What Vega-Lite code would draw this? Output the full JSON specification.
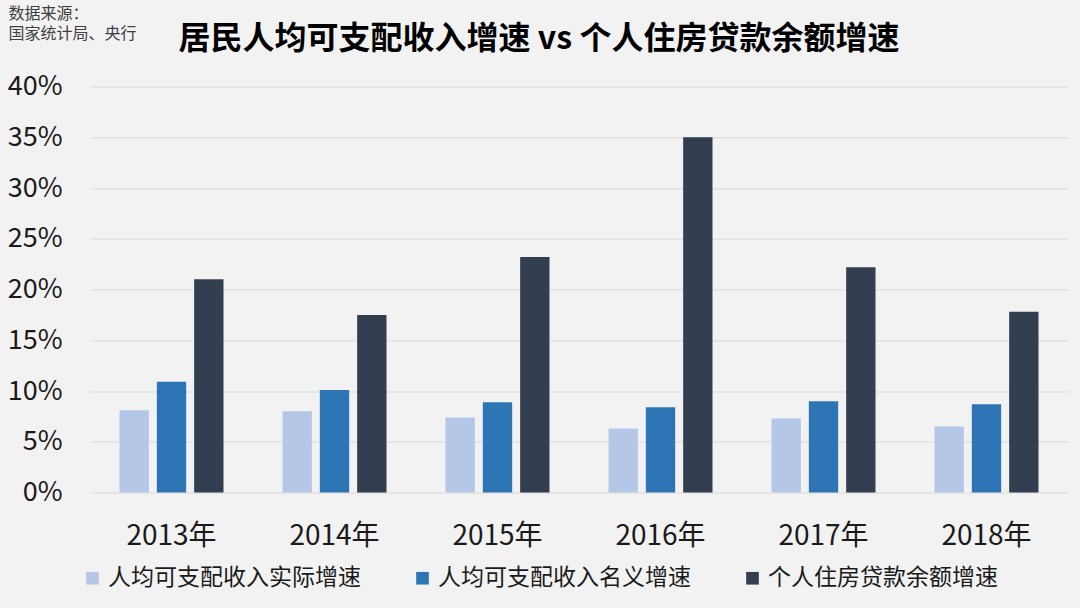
{
  "$schema": "https://vega.github.io/schema/vega-lite/v6.json",
  "width": 978,
  "height": 406,
  "autosize": {"type": "none"},
  "padding": {"left": 90, "top": 86.5, "right": 12, "bottom": 115.5},
  "background": "#F2F2F2",
  "title": {
    "text": "居民人均可支配收入增速 vs 个人住房贷款余额增速",
    "font": "Noto Sans CJK SC",
    "fontSize": 32,
    "fontWeight": "bold",
    "color": "#000000",
    "anchor": "middle",
    "frame": "group",
    "dx": -40,
    "offset": -50
  },
  "config": {
    "view": {"stroke": null},
    "font": "Noto Sans CJK SC"
  },
  "data": {
    "values": [
      {"year": "2013年", "series": "人均可支配收入实际增速", "value": 0.081},
      {"year": "2013年", "series": "人均可支配收入名义增速", "value": 0.109},
      {"year": "2013年", "series": "个人住房贷款余额增速", "value": 0.210},
      {"year": "2014年", "series": "人均可支配收入实际增速", "value": 0.080},
      {"year": "2014年", "series": "人均可支配收入名义增速", "value": 0.101},
      {"year": "2014年", "series": "个人住房贷款余额增速", "value": 0.175},
      {"year": "2015年", "series": "人均可支配收入实际增速", "value": 0.074},
      {"year": "2015年", "series": "人均可支配收入名义增速", "value": 0.089},
      {"year": "2015年", "series": "个人住房贷款余额增速", "value": 0.232},
      {"year": "2016年", "series": "人均可支配收入实际增速", "value": 0.063},
      {"year": "2016年", "series": "人均可支配收入名义增速", "value": 0.084},
      {"year": "2016年", "series": "个人住房贷款余额增速", "value": 0.350},
      {"year": "2017年", "series": "人均可支配收入实际增速", "value": 0.073},
      {"year": "2017年", "series": "人均可支配收入名义增速", "value": 0.090},
      {"year": "2017年", "series": "个人住房贷款余额增速", "value": 0.222},
      {"year": "2018年", "series": "人均可支配收入实际增速", "value": 0.065},
      {"year": "2018年", "series": "人均可支配收入名义增速", "value": 0.087},
      {"year": "2018年", "series": "个人住房贷款余额增速", "value": 0.178}
    ]
  },
  "mark": {"type": "bar"},
  "encoding": {
    "x": {
      "field": "year",
      "type": "nominal",
      "sort": null,
      "scale": {"paddingInner": 0.362, "paddingOuter": 0.181},
      "axis": {
        "title": null,
        "labelAngle": 0,
        "labelFontSize": 28,
        "labelColor": "#1a1a1a",
        "labelPadding": 30,
        "ticks": false,
        "tickSize": 0,
        "domain": false
      }
    },
    "xOffset": {
      "field": "series",
      "type": "nominal",
      "sort": ["人均可支配收入实际增速", "人均可支配收入名义增速", "个人住房贷款余额增速"],
      "scale": {"paddingInner": 0.214, "paddingOuter": 0}
    },
    "y": {
      "field": "value",
      "type": "quantitative",
      "scale": {"domain": [0, 0.4], "nice": false},
      "axis": {
        "title": ["数据来源：", "国家统计局、央行"],
        "titleAngle": 0,
        "titleAlign": "left",
        "titleBaseline": "top",
        "titleX": -82,
        "titleY": -81,
        "titleFontSize": 16,
        "titleFontWeight": "normal",
        "titleColor": "#404040",
        "titleLineHeight": 20,
        "format": ".0%",
        "values": [0, 0.05, 0.1, 0.15, 0.2, 0.25, 0.3, 0.35, 0.4],
        "labelFontSize": 27,
        "labelColor": "#1a1a1a",
        "labelPadding": 28,
        "ticks": false,
        "tickSize": 0,
        "domain": false,
        "grid": true,
        "gridColor": "#D9D9D9",
        "gridWidth": 1
      }
    },
    "color": {
      "field": "series",
      "type": "nominal",
      "sort": ["人均可支配收入实际增速", "人均可支配收入名义增速", "个人住房贷款余额增速"],
      "scale": {
        "domain": ["人均可支配收入实际增速", "人均可支配收入名义增速", "个人住房贷款余额增速"],
        "range": ["#B4C7E7", "#2E75B6", "#333F50"]
      },
      "legend": {
        "title": null,
        "orient": "none",
        "direction": "horizontal",
        "legendX": -9,
        "legendY": 480,
        "symbolType": "square",
        "symbolSize": 160,
        "symbolStrokeWidth": 0,
        "labelFontSize": 23,
        "labelColor": "#1a1a1a",
        "labelOffset": 4,
        "columnPadding": 50,
        "labelLimit": 400
      }
    }
  }
}
